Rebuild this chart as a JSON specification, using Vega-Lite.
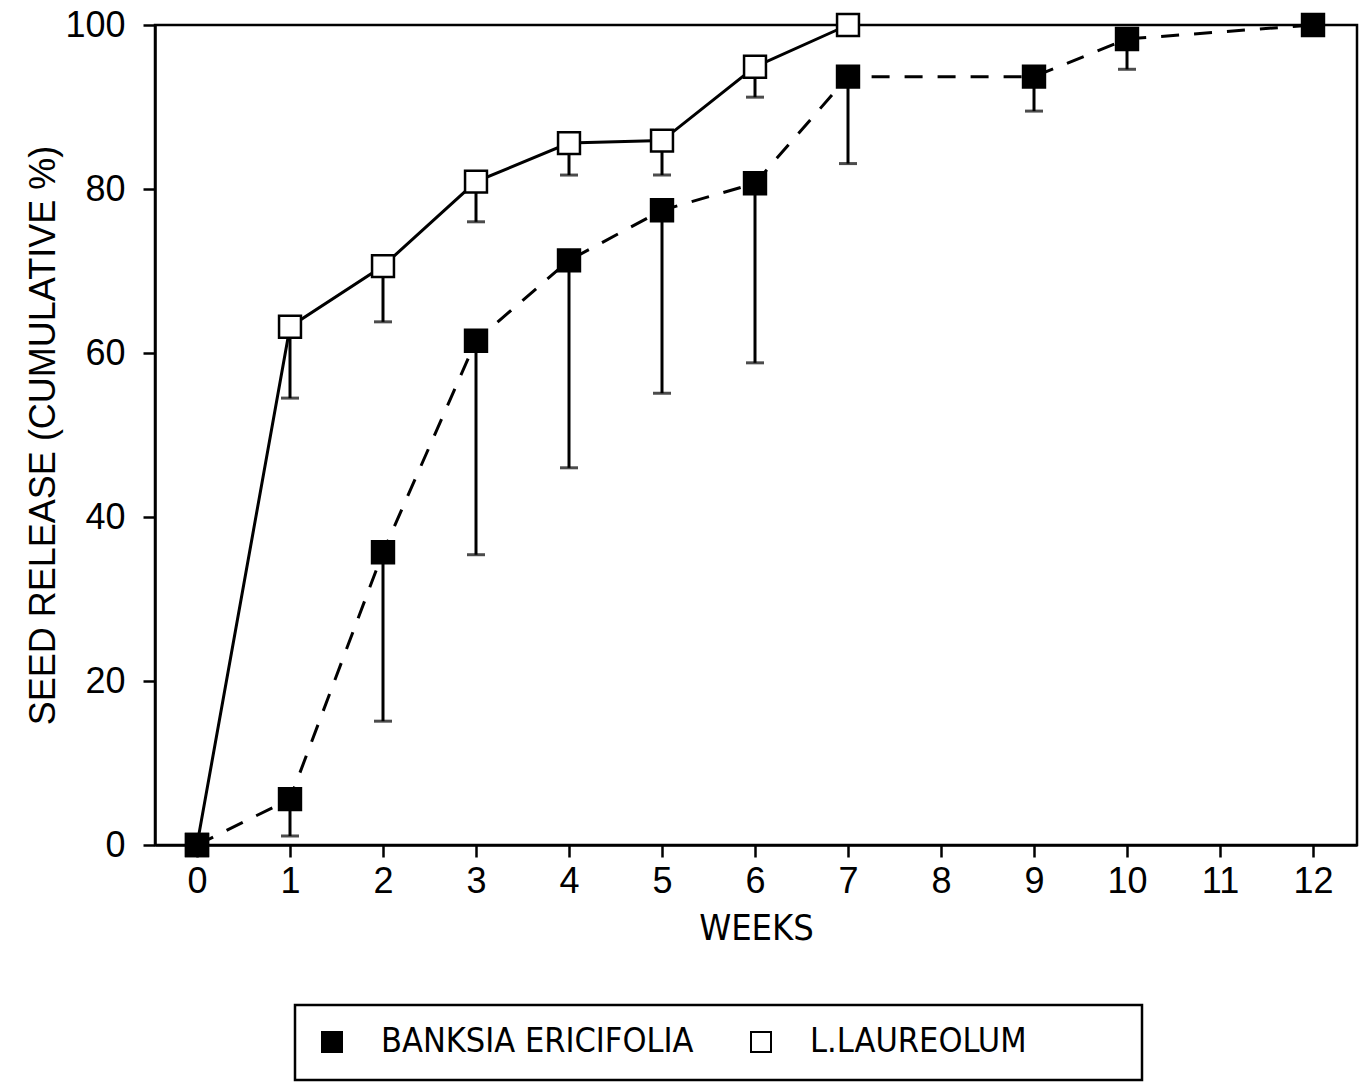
{
  "$schema": "https://vega.github.io/schema/vega-lite/v6.json",
  "width": 1202,
  "height": 820,
  "autosize": {"type": "none"},
  "padding": {"left": 155, "top": 25, "right": 10, "bottom": 240},
  "background": "white",
  "config": {
    "view": {"stroke": "black", "strokeWidth": 2.5},
    "font": "Liberation Sans",
    "axis": {
      "grid": false,
      "domainColor": "black",
      "domainWidth": 2.5,
      "tickColor": "black",
      "tickWidth": 2.5,
      "tickSize": 12,
      "labelColor": "black",
      "labelFontSize": 36,
      "labelFont": "Liberation Sans",
      "titleColor": "black",
      "titleFontWeight": "normal",
      "titleFontSize": 36
    },
    "legend": {
      "strokeColor": "black",
      "strokeWidth": 2.5
    }
  },
  "data": {
    "values": [
      {"species": "L.LAUREOLUM", "week": 0, "pct": 0, "low": null},
      {"species": "L.LAUREOLUM", "week": 1, "pct": 63.2, "low": 54.5},
      {"species": "L.LAUREOLUM", "week": 2, "pct": 70.6, "low": 63.8},
      {"species": "L.LAUREOLUM", "week": 3, "pct": 80.9, "low": 76.0},
      {"species": "L.LAUREOLUM", "week": 4, "pct": 85.6, "low": 81.7},
      {"species": "L.LAUREOLUM", "week": 5, "pct": 85.9, "low": 81.7},
      {"species": "L.LAUREOLUM", "week": 6, "pct": 94.9, "low": 91.2},
      {"species": "L.LAUREOLUM", "week": 7, "pct": 100, "low": null},
      {"species": "BANKSIA ERICIFOLIA", "week": 0, "pct": 0, "low": null},
      {"species": "BANKSIA ERICIFOLIA", "week": 1, "pct": 5.6, "low": 1.1},
      {"species": "BANKSIA ERICIFOLIA", "week": 2, "pct": 35.7, "low": 15.1},
      {"species": "BANKSIA ERICIFOLIA", "week": 3, "pct": 61.5, "low": 35.4},
      {"species": "BANKSIA ERICIFOLIA", "week": 4, "pct": 71.3, "low": 46.0},
      {"species": "BANKSIA ERICIFOLIA", "week": 5, "pct": 77.4, "low": 55.1},
      {"species": "BANKSIA ERICIFOLIA", "week": 6, "pct": 80.7, "low": 58.8},
      {"species": "BANKSIA ERICIFOLIA", "week": 7, "pct": 93.7, "low": 83.1},
      {"species": "BANKSIA ERICIFOLIA", "week": 9, "pct": 93.7, "low": 89.5},
      {"species": "BANKSIA ERICIFOLIA", "week": 10, "pct": 98.3, "low": 94.6},
      {"species": "BANKSIA ERICIFOLIA", "week": 12, "pct": 100, "low": null}
    ]
  },
  "encoding": {
    "x": {
      "field": "week",
      "type": "quantitative",
      "scale": {"domain": [-0.4516, 12.473], "nice": false, "zero": false},
      "axis": {
        "values": [0, 1, 2, 3, 4, 5, 6, 7, 8, 9, 10, 11, 12],
        "labelPadding": 7,
        "title": "WEEKS",
        "titleFont": "Liberation Sans Narrow, DejaVu Sans Condensed, Liberation Sans",
        "titlePadding": 12
      }
    },
    "y": {
      "field": "pct",
      "type": "quantitative",
      "scale": {"domain": [0, 100], "nice": false},
      "axis": {
        "values": [0, 20, 40, 60, 80, 100],
        "labelPadding": 18,
        "title": "SEED RELEASE (CUMULATIVE %)",
        "titlePadding": 2
      }
    }
  },
  "layer": [
    {
      "transform": [{"filter": "datum.species == 'L.LAUREOLUM'"}],
      "mark": {"type": "line", "color": "black", "strokeWidth": 3},
      "encoding": {}
    },
    {
      "transform": [{"filter": "datum.species == 'BANKSIA ERICIFOLIA'"}],
      "mark": {"type": "line", "color": "black", "strokeWidth": 3, "strokeDash": [18, 15]},
      "encoding": {}
    },
    {
      "transform": [{"filter": "datum.low != null"}],
      "mark": {"type": "rule", "color": "black", "strokeWidth": 3},
      "encoding": {
        "y2": {"field": "low"}
      }
    },
    {
      "transform": [{"filter": "datum.low != null"}],
      "mark": {"type": "tick", "orient": "horizontal", "color": "black", "size": 18, "thickness": 3},
      "encoding": {
        "y": {"field": "low", "type": "quantitative"}
      }
    },
    {
      "mark": {"type": "point", "shape": "square", "filled": true, "stroke": "black", "strokeWidth": 2.5, "size": 480, "opacity": 1},
      "encoding": {
        "fill": {
          "field": "species",
          "type": "nominal",
          "scale": {"domain": ["BANKSIA ERICIFOLIA", "L.LAUREOLUM"], "range": ["black", "white"]},
          "legend": {
            "orient": "none",
            "legendX": 140,
            "legendY": 980,
            "direction": "horizontal",
            "title": "\u00a0",
            "titleOrient": "right",
            "titlePadding": 95,
            "titleFontSize": 36,
            "padding": 20,
            "symbolType": "square",
            "symbolSize": 400,
            "symbolStrokeColor": "black",
            "symbolStrokeWidth": 2,
            "labelFont": "Liberation Sans Narrow, DejaVu Sans Condensed, Liberation Sans",
            "labelFontSize": 34,
            "labelColor": "black",
            "labelOffset": 32,
            "labelLimit": 600,
            "columnPadding": 50
          }
        }
      }
    }
  ]
}
